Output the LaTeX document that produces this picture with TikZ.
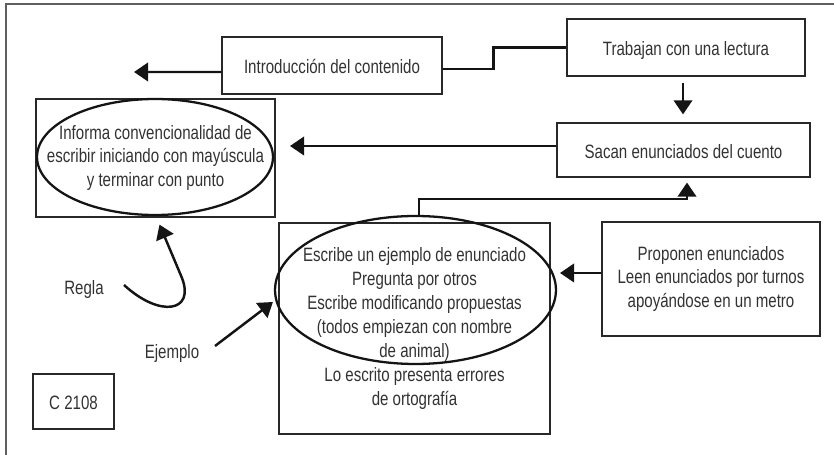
\documentclass[tikz,border=0pt]{standalone}
\usepackage{fontspec}
\setmainfont[FakeStretch=0.78]{Liberation Sans}
\usepackage{tikz}
\usetikzlibrary{
  positioning,
  arrows.meta,
  shapes.geometric,
  calc
}
\definecolor{boxborder}{RGB}{40,40,40}
\definecolor{inktext}{RGB}{50,50,50}
\definecolor{arrowcolor}{RGB}{20,20,20}
\definecolor{framegray}{RGB}{95,95,95}
\newcommand{\lecfont}{\fontsize{11}{13.6}\selectfont}
\tikzset{
  procbox/.style={
    draw=boxborder, line width=0.7pt, inner sep=0pt,
    font=\lecfont, text=inktext, align=center
  },
  onelinebox/.style={
    procbox, text height=12pt, text depth=2.4pt
  },
  ovalmark/.style={
    draw=arrowcolor, ellipse, line width=1.3pt, inner sep=0pt
  },
  plainlabel/.style={
    font=\lecfont, text=inktext, inner sep=0pt
  },
  bigarrow/.style={
    -{Triangle[length=8pt,width=10.5pt]}, line width=1.4pt, draw=arrowcolor
  },
  stepline/.style={
    line width=1.4pt, draw=arrowcolor
  }
}

\begin{document}
\begin{tikzpicture}[x=0.02cm, y=-0.02cm]
  \useasboundingbox (0,0) rectangle (834,455);
  \draw[framegray, line width=0.7pt] (6,455) -- (6,4) -- (834,4);

  % upper row
  \node[onelinebox, minimum width=4.4cm, minimum height=1.14cm] (intro) at (332,65.5) {Introducción del contenido};
  \node[onelinebox, minimum width=4.76cm, minimum height=1.14cm] (lectura) at (686,47.5) {Trabajan con una lectura};
  \node[onelinebox, minimum width=5.06cm, minimum height=1.08cm] (sacan) at (683.5,150) {Sacan enunciados del cuento};

  % rule box with its oval
  \node[procbox, minimum width=4.78cm, minimum height=2.36cm] (informa) at (155.5,158) {
    Informa convencionalidad de\\
    escribir iniciando con mayúscula\\
    y terminar con punto};
  \node[ovalmark, minimum width=4.72cm, minimum height=2.32cm] (informaoval) at (155,157) {};

  % example box with its oval
  \node[procbox, minimum width=5.42cm, minimum height=4.22cm] (escribe) at (414.5,328.5) {
    Escribe un ejemplo de enunciado\\
    Pregunta por otros\\
    Escribe modificando propuestas\\
    (todos empiezan con nombre\\
    de animal)\\
    Lo escrito presenta errores\\
    de ortografía};
  \node[ovalmark, minimum width=5.62cm, minimum height=2.96cm] (escribeoval) at (415.5,290) {};

  \node[procbox, minimum width=4.36cm, minimum height=2.28cm] (proponen) at (711,279) {
    Proponen enunciados\\
    Leen enunciados por turnos\\
    apoyándose en un metro};
  \node[onelinebox, minimum width=1.62cm, minimum height=1.1cm] (clave) at (73.5,401.5) {C 2108};

  \node[plainlabel] (regla) at (84,290) {Regla};
  \node[plainlabel] (ejemplo) at (172,354) {Ejemplo};

  % free arrow ends
  \coordinate (introtip) at (134,72);
  \coordinate (sacantip) at (290,146);
  \coordinate (proponentip) at (560,273);

  % connectors
  \draw[bigarrow] ([shift={(0,6.5)}]intro.west) -- (introtip);
  \draw[stepline] (lectura.west) -- ++(-73,0) |- ([shift={(0,3.5)}]intro.east);
  \draw[bigarrow] ([shift={(-3,6)}]lectura.south) -- ([shift={(-0.5,-8)}]sacan.north);
  \draw[bigarrow] ([shift={(0,-4)}]sacan.west) -- (sacantip);
  \draw[bigarrow] ([shift={(3.5,0)}]escribeoval.north) -- ++(0,-16) -| ([shift={(3.5,5)}]sacan.south);
  \draw[bigarrow] ([shift={(0,-6)}]proponen.west) -- (proponentip);
  \draw[bigarrow] ([shift={(40,-5)}]regla.center) .. controls (160,318) and (195,312) .. (182,278)
    -- ([shift={(4,7)}]informa.south);
  \draw[bigarrow] ([shift={(43,-8)}]ejemplo.center) -- ([shift={(-1,12)}]escribeoval.west);
\end{tikzpicture}
\end{document}
